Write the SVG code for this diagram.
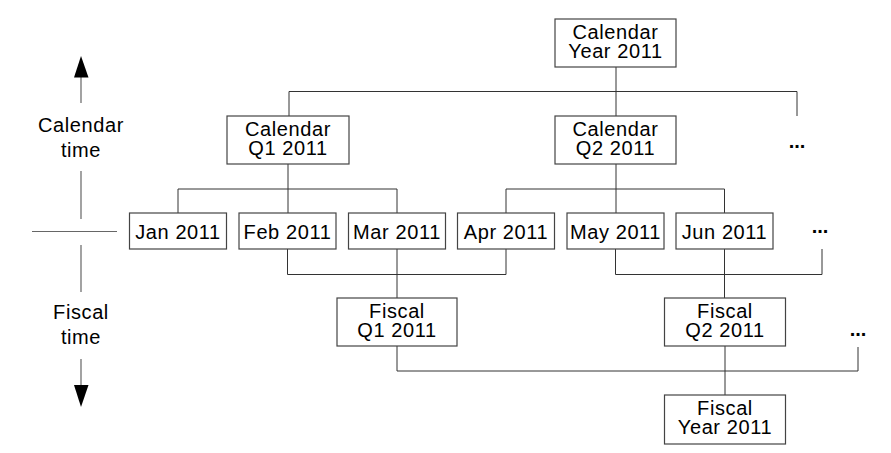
<svg xmlns="http://www.w3.org/2000/svg" width="891" height="453" viewBox="0 0 891 453">
<defs>
<style>
.box{fill:#fff;stroke:#444;stroke-width:1.2}
.t{font-family:"Liberation Sans",Arial,sans-serif;font-size:20px;letter-spacing:0.6px;fill:#000;text-anchor:middle}
.c{fill:none;stroke:#333;stroke-width:1}
.ax{fill:none;stroke:#666;stroke-width:1.2}
.dots{font-family:"Liberation Sans",Arial,sans-serif;font-size:20px;font-weight:bold;fill:#000;text-anchor:middle}
</style>
</defs>
<rect width="891" height="453" fill="#fff"/>
<g id="connectors">
<path class="c" d="M616 67V116M289 91.5H797V116M289 91.5V116"/>
<path class="c" d="M288 164V213M178 189H397M178 189V213M397 189V213"/>
<path class="c" d="M616 164V213M506 189H724.5M506 189V213M724.5 189V213"/>
<path class="c" d="M287.5 249V274.5H506V249M397 249V298"/>
<path class="c" d="M615.5 249V274.5H822V249M724.5 249V298"/>
<path class="c" d="M397 346V371H858V347M725 346V395"/>
</g>
<g id="axis">
<path class="ax" d="M81 77V103M81 171V219M32 231.5H117M81 245V292M81 359V385"/>
<polygon points="81,56 74,77.5 88.5,77.5" fill="#000"/>
<polygon points="81,407 74,385 88.5,385" fill="#000"/>
<text class="t" x="81" y="132">Calendar</text>
<text class="t" x="81" y="157">time</text>
<text class="t" x="81" y="319">Fiscal</text>
<text class="t" x="81" y="344">time</text>
</g>
<g id="cal-year"><rect class="box" x="555" y="19" width="121" height="48"/><text class="t" x="615.5" y="39">Calendar</text><text class="t" x="615.5" y="58">Year 2011</text></g>
<g id="cal-q1"><rect class="box" x="227" y="116" width="122" height="48"/><text class="t" x="288" y="136">Calendar</text><text class="t" x="288" y="155">Q1 2011</text></g>
<g id="cal-q2"><rect class="box" x="555" y="116" width="121" height="48"/><text class="t" x="615.5" y="136">Calendar</text><text class="t" x="615.5" y="155">Q2 2011</text></g>
<g id="cal-more"><text class="dots" x="797" y="148">...</text></g>
<g id="jan"><rect class="box" x="129.5" y="213" width="97" height="36"/><text class="t" x="178" y="238.5">Jan 2011</text></g>
<g id="feb"><rect class="box" x="239" y="213" width="97" height="36"/><text class="t" x="287.5" y="238.5">Feb 2011</text></g>
<g id="mar"><rect class="box" x="348.5" y="213" width="97" height="36"/><text class="t" x="397" y="238.5">Mar 2011</text></g>
<g id="apr"><rect class="box" x="457.5" y="213" width="97" height="36"/><text class="t" x="506" y="238.5">Apr 2011</text></g>
<g id="may"><rect class="box" x="567" y="213" width="97" height="36"/><text class="t" x="615.5" y="238.5">May 2011</text></g>
<g id="jun"><rect class="box" x="676" y="213" width="97" height="36"/><text class="t" x="724.5" y="238.5">Jun 2011</text></g>
<g id="month-more"><text class="dots" x="820" y="233">...</text></g>
<g id="fis-q1"><rect class="box" x="337" y="298" width="120" height="48"/><text class="t" x="397" y="318">Fiscal</text><text class="t" x="397" y="337">Q1 2011</text></g>
<g id="fis-q2"><rect class="box" x="664.5" y="298" width="121" height="48"/><text class="t" x="725" y="318">Fiscal</text><text class="t" x="725" y="337">Q2 2011</text></g>
<g id="fis-more"><text class="dots" x="858" y="336">...</text></g>
<g id="fis-year"><rect class="box" x="664.5" y="395" width="121" height="49"/><text class="t" x="725" y="415">Fiscal</text><text class="t" x="725" y="434">Year 2011</text></g>
</svg>
